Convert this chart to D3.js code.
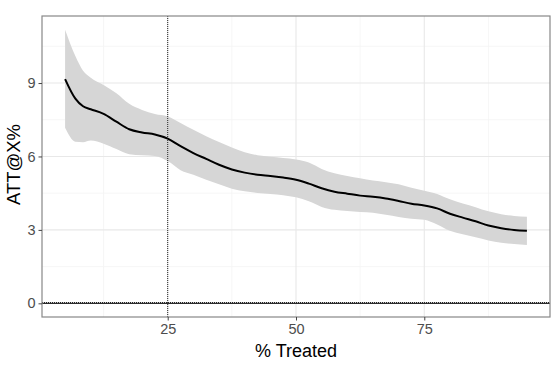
<!DOCTYPE html>
<html>
<head>
<meta charset="utf-8">
<script src="https://cdn.jsdelivr.net/npm/d3@7"></script>
<style>
	body { margin: 0; background: #fff; }
	text { font-family: "Liberation Sans", Arial, Helvetica, sans-serif; }
</style>
</head>
<body>
<script>
// % treated (x) and ATT@X% estimate with its confidence band
const pctTreated = [5, 7, 8.5, 10, 12.5, 15, 17.5, 20, 22.5, 25, 27.5, 30, 32.5, 35, 37.5, 40, 42.5, 45, 47.5, 50,
	52.5, 55, 57.5, 60, 62.5, 65, 67.5, 70, 72.5, 75, 77.5, 80, 82.5, 85, 87.5, 90, 92.5, 95];
const attEstimate = [9.16, 8.36, 8.05, 7.93, 7.74, 7.42, 7.11, 6.98, 6.90, 6.73, 6.42, 6.14, 5.90, 5.66, 5.47, 5.34, 5.25, 5.20, 5.14, 5.05,
	4.89, 4.70, 4.56, 4.48, 4.40, 4.35, 4.28, 4.18, 4.07, 4.00, 3.88, 3.66, 3.50, 3.35, 3.18, 3.07, 3.00, 2.97];
const attLower = [7.17, 6.60, 6.58, 6.65, 6.52, 6.30, 6.09, 6.05, 6.02, 5.81, 5.44, 5.25, 5.05, 4.86, 4.68, 4.58, 4.51, 4.47, 4.42, 4.33,
	4.17, 3.94, 3.82, 3.77, 3.73, 3.70, 3.62, 3.53, 3.46, 3.41, 3.22, 2.96, 2.82, 2.70, 2.57, 2.47, 2.42, 2.38];
const attUpper = [11.18, 10.10, 9.50, 9.22, 8.92, 8.58, 8.15, 7.90, 7.73, 7.63, 7.37, 7.09, 6.83, 6.59, 6.37, 6.17, 6.05, 5.99, 5.94, 5.88,
	5.75, 5.49, 5.31, 5.20, 5.11, 5.02, 4.95, 4.86, 4.72, 4.60, 4.47, 4.25, 4.08, 3.93, 3.76, 3.64, 3.57, 3.54];

const xTicks = [25, 50, 75];
const xMinor = [12.5, 37.5, 62.5, 87.5];
const yTicks = [0, 3, 6, 9];
const yMinor = [1.5, 4.5, 7.5, 10.5];
const cutoff = 25;

const WIDTH = 556, HEIGHT = 371;
const margin = {top: 16, right: 6, bottom: 54, left: 42};
const innerW = WIDTH - margin.left - margin.right;
const innerH = HEIGHT - margin.top - margin.bottom;

const data = pctTreated.map((x, i) => ({x: x, y: attEstimate[i], lo: attLower[i], hi: attUpper[i]}));

// ggplot style 5% expansion
const xPad = (d3.max(pctTreated) - d3.min(pctTreated)) * 0.05;
const yMax = d3.max(attUpper);
const yPad = yMax * 0.05;

const x = d3.scaleLinear()
	.domain([d3.min(pctTreated) - xPad, d3.max(pctTreated) + xPad])
	.range([0, innerW]);
const y = d3.scaleLinear()
	.domain([0 - yPad, yMax + yPad])
	.range([innerH, 0]);

const svg = d3.select("body").append("svg")
	.attr("width", WIDTH)
	.attr("height", HEIGHT);

const g = svg.append("g")
	.attr("transform", `translate(${margin.left},${margin.top})`);

// grid
g.append("g").selectAll("line.minor-x").data(xMinor).join("line")
	.attr("x1", d => x(d)).attr("x2", d => x(d))
	.attr("y1", 0).attr("y2", innerH)
	.attr("stroke", "#f4f4f4").attr("stroke-width", 0.8);
g.append("g").selectAll("line.minor-y").data(yMinor).join("line")
	.attr("x1", 0).attr("x2", innerW)
	.attr("y1", d => y(d)).attr("y2", d => y(d))
	.attr("stroke", "#f4f4f4").attr("stroke-width", 0.8);
g.append("g").selectAll("line.major-x").data(xTicks).join("line")
	.attr("x1", d => x(d)).attr("x2", d => x(d))
	.attr("y1", 0).attr("y2", innerH)
	.attr("stroke", "#e8e8e8").attr("stroke-width", 1.1);
g.append("g").selectAll("line.major-y").data(yTicks).join("line")
	.attr("x1", 0).attr("x2", innerW)
	.attr("y1", d => y(d)).attr("y2", d => y(d))
	.attr("stroke", "#e8e8e8").attr("stroke-width", 1.1);

// ribbon
const area = d3.area()
	.x(d => x(d.x))
	.y0(d => y(d.lo))
	.y1(d => y(d.hi))
	.curve(d3.curveMonotoneX);
g.append("path")
	.datum(data)
	.attr("d", area)
	.attr("fill", "#d6d6d6");

// reference lines
g.append("line")
	.attr("x1", 0).attr("x2", innerW)
	.attr("y1", y(0)).attr("y2", y(0))
	.attr("stroke", "#000").attr("stroke-width", 1);
g.append("line")
	.attr("x1", 0).attr("x2", innerW)
	.attr("y1", y(0) - 0.8).attr("y2", y(0) - 0.8)
	.attr("stroke", "#222").attr("stroke-width", 1)
	.attr("stroke-dasharray", "1,1");
g.append("line")
	.attr("x1", x(cutoff)).attr("x2", x(cutoff))
	.attr("y1", 0).attr("y2", innerH)
	.attr("stroke", "#222").attr("stroke-width", 1)
	.attr("stroke-dasharray", "1,1");

// estimate line
const line = d3.line()
	.x(d => x(d.x))
	.y(d => y(d.y))
	.curve(d3.curveMonotoneX);
g.append("path")
	.datum(data)
	.attr("d", line)
	.attr("fill", "none")
	.attr("stroke", "#000")
	.attr("stroke-width", 2);

// panel border
g.append("rect")
	.attr("x", 0).attr("y", 0)
	.attr("width", innerW).attr("height", innerH)
	.attr("fill", "none")
	.attr("stroke", "#888")
	.attr("stroke-width", 1.2);

// axes
const xAxis = g.append("g")
	.attr("transform", `translate(0,${innerH})`)
	.call(d3.axisBottom(x).tickValues(xTicks).tickSize(3.5).tickPadding(3));
const yAxis = g.append("g")
	.call(d3.axisLeft(y).tickValues(yTicks).tickSize(3.5).tickPadding(3));

[xAxis, yAxis].forEach(ax => {
	ax.select(".domain").remove();
	ax.selectAll(".tick line").attr("stroke", "#444").attr("stroke-width", 1);
	ax.selectAll(".tick text")
		.attr("fill", "#4d4d4d")
		.attr("font-size", 14.5)
		.style("font-family", "'Liberation Sans', Arial, sans-serif");
});

// axis titles
svg.append("text")
	.attr("x", margin.left + innerW / 2)
	.attr("y", 357)
	.attr("text-anchor", "middle")
	.attr("font-size", 18)
	.attr("fill", "#000")
	.text("% Treated");

svg.append("text")
	.attr("transform", `translate(20,${margin.top + innerH / 2 - 2}) rotate(-90)`)
	.attr("text-anchor", "middle")
	.attr("font-size", 18.5)
	.attr("fill", "#000")
	.text("ATT@X%");
</script>
</body>
</html>
